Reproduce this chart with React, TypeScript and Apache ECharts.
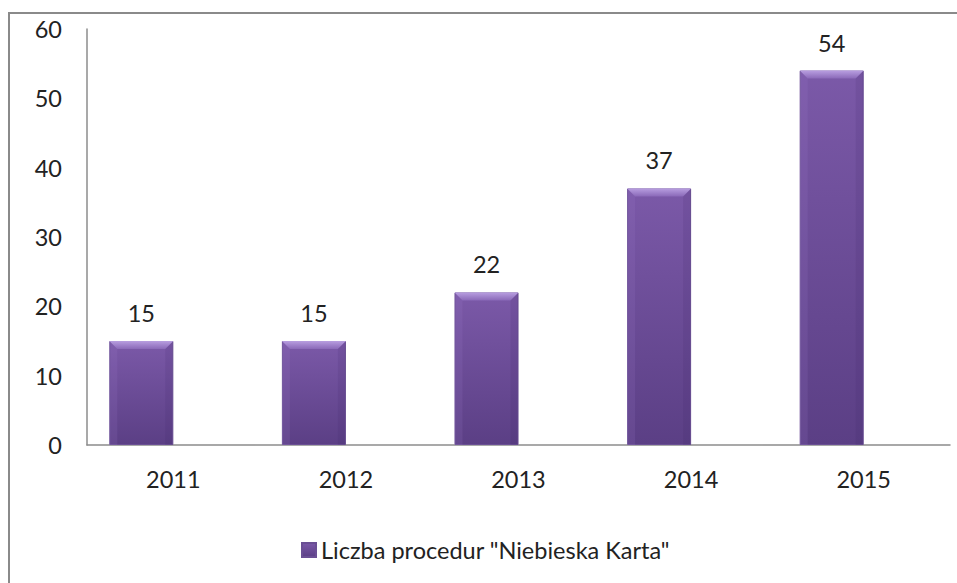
import React, { useEffect, useRef } from "react";
import * as echarts from "echarts";

const categories = ["2011", "2012", "2013", "2014", "2015"];
const values = [15, 15, 22, 37, 54];
const seriesName = 'Liczba procedur "Niebieska Karta"';
const yTicks = { min: 0, max: 60, interval: 10 };

const FONT = "Lato, 'Open Sans', sans-serif";
const FS = 23.5;
const TEXT = "#222";
const AXIS = "#8c8c8c";
const BAR_W = 64;

export default function App() {
  const ref = useRef<HTMLDivElement>(null);
  useEffect(() => {
    if (!ref.current) return;
    const chart = echarts.init(ref.current, undefined, { renderer: "svg" });
    chart.setOption({
      animation: false,
      backgroundColor: "#fff",
      textStyle: { fontFamily: FONT },
      grid: { left: 87, top: 29, right: 7, bottom: 138, containLabel: false },
      graphic: [
        { type: "line", shape: { x1: 8, y1: 13, x2: 957, y2: 13 }, style: { stroke: "#8a8a8a", lineWidth: 2 } },
        { type: "line", shape: { x1: 9, y1: 12, x2: 9, y2: 583 }, style: { stroke: "#8a8a8a", lineWidth: 2 } },
      ],
      legend: {
        data: [seriesName],
        left: 301,
        top: 538,
        padding: 0,
        itemWidth: 14,
        itemHeight: 14,
        icon: "rect",
        textStyle: { fontFamily: FONT, fontSize: FS, color: TEXT },
      },
      xAxis: {
        type: "category",
        data: categories,
        axisLine: { lineStyle: { color: AXIS, width: 1.5 } },
        axisTick: { show: false },
        axisLabel: { fontFamily: FONT, fontSize: FS, color: TEXT, margin: 22 },
      },
      yAxis: {
        type: "value",
        min: yTicks.min,
        max: yTicks.max,
        interval: yTicks.interval,
        axisLine: { show: true, lineStyle: { color: AXIS, width: 1.5 } },
        axisTick: { show: false },
        splitLine: { show: false },
        axisLabel: { fontFamily: FONT, fontSize: FS, color: TEXT, margin: 25 },
      },
      series: [
        {
          name: seriesName,
          type: "bar",
          data: values,
          barWidth: BAR_W,
          barGap: "0%",
          itemStyle: {
            color: new echarts.graphic.LinearGradient(0, 0, 0, 1, [
              { offset: 0, color: "#7b59a8" },
              { offset: 1, color: "#5b3f85" },
            ]),
            borderColor: "#6a4f94",
            borderWidth: 1,
          },
          label: {
            show: true,
            position: "top",
            distance: 16,
            fontFamily: FONT,
            fontSize: FS,
            color: TEXT,
          },
        },
        {
          name: "_empty",
          type: "bar",
          data: values.map(() => null),
          barWidth: BAR_W,
          barGap: "0%",
          silent: true,
        },
        {
          name: "_bevel",
          type: "custom",
          silent: true,
          z: 5,
          data: values.map((v, i) => [i, v]),
          renderItem: (params: any, api: any) => {
            const p = api.coord([api.value(0), api.value(1)]);
            const x0 = p[0] - BAR_W;
            const x1 = p[0];
            const y0 = p[1];
            const base = api.coord([api.value(0), 0])[1];
            const b = 8;
            return {
              type: "group",
              children: [
                {
                  type: "polygon",
                  shape: { points: [[x0, y0], [x1, y0], [x1 - b, y0 + b], [x0 + b, y0 + b]] },
                  style: {
                    fill: new echarts.graphic.LinearGradient(0, 0, 0, 1, [
                      { offset: 0, color: "#b89ee0" },
                      { offset: 1, color: "#8a69b8" },
                    ]),
                  },
                },
                {
                  type: "polygon",
                  shape: { points: [[x0, y0], [x0 + b, y0 + b], [x0 + b, base], [x0, base]] },
                  style: { fill: "rgba(160,130,205,0.15)" },
                },
                {
                  type: "polygon",
                  shape: { points: [[x1, y0], [x1 - b, y0 + b], [x1 - b, base], [x1, base]] },
                  style: { fill: "rgba(60,35,95,0.12)" },
                },
              ],
            };
          },
        },
      ],
    });
    return () => chart.dispose();
  }, []);
  return (
    <div
      ref={ref}
      style={{ position: "fixed", left: 0, top: 0, width: 957, height: 583 }}
    />
  );
}
